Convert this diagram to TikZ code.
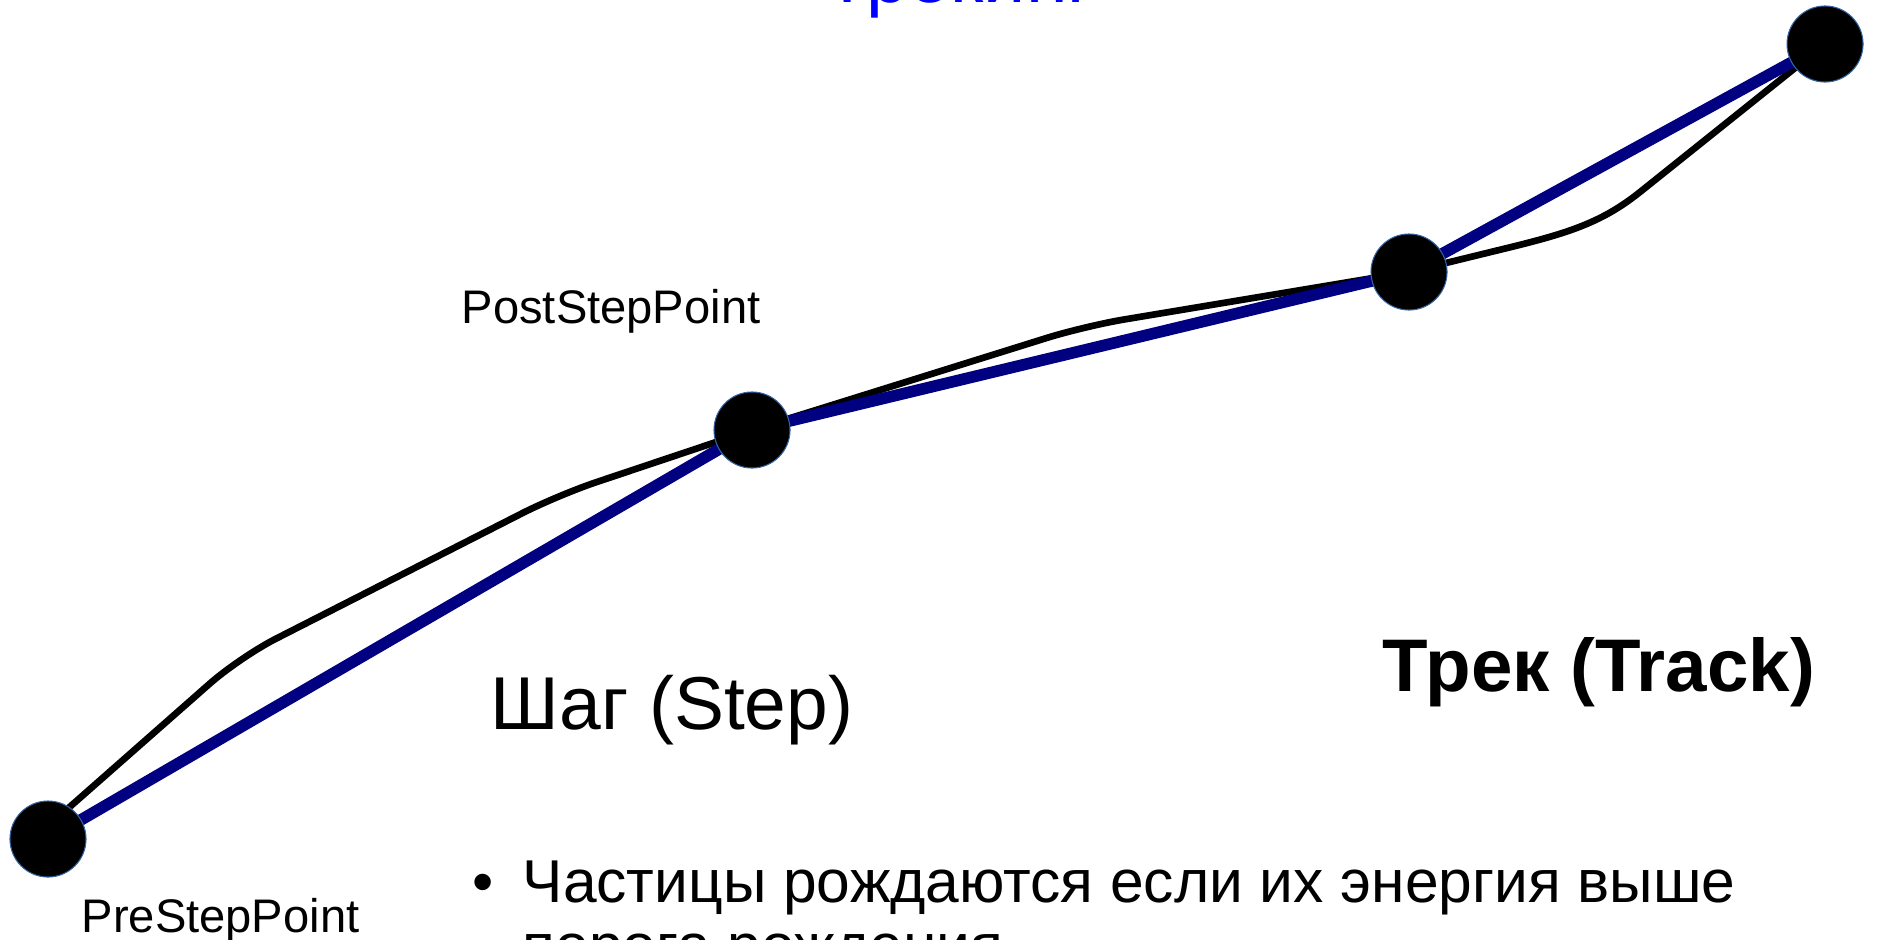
\documentclass[tikz,border=0pt]{standalone}
\usepackage{fontspec}
\setmainfont{Liberation Sans}
\usepackage{tikz}

\begin{document}
\begin{tikzpicture}[x=0.01cm, y=-0.01cm,
  pt/.style={circle, fill=black, draw=rimBlue, line width=0.3pt, minimum size=0.76cm, inner sep=0pt},
  lbl/.style={anchor=base west, inner sep=0pt, font=\fontsize{13.4}{16}\selectfont},
  seg/.style={draw=trackBlue, line width=3.3pt},
  path/.style={draw=black, line width=1.9pt, rounded corners=0.4cm}]

% Colores
\definecolor{trackBlue}{RGB}{0,0,128}
\definecolor{rimBlue}{RGB}{52,101,164}
\definecolor{titleBlue}{RGB}{0,0,255}

\useasboundingbox (0,0) rectangle (1880,939);

% Puntos del track
\coordinate (c0) at (48,839);
\coordinate (c1) at (752,430);
\coordinate (c2) at (1409,272);
\coordinate (c3) at (1825,44);

% Trayectoria real
\draw[path] (c0) ++(8,-20) -- (240,657) -- (558,495) -- (c1);
\draw[path] (c1) -- (1085,326) -- (c2);
\draw[path, sharp corners] (c2) -- (1499,250) .. controls (1565,234) and (1600,224) .. (1640,192) -- (c3);

% Pasos
\draw[seg] (c0) -- (c1);
\draw[seg] (c1) -- (c2);
\draw[seg] (c2) -- (c3);

\node[pt] (p0) at (c0) {};
\node[pt] (p1) at (c1) {};
\node[pt] (p2) at (c2) {};
\node[pt] (p3) at (c3) {};

% Textos
\node[anchor=base, inner sep=0pt, text=titleBlue, font=\fontsize{21.5}{25}\selectfont] (title) at (960,2) {Трекинг};
\node[lbl] (post) at (461,323) {PostStepPoint};
\node[lbl] (pre) at (81,932) {PreStepPoint};
\node[lbl, font=\fontsize{21.3}{25}\selectfont] (step) at (490,729) {Шаг (Step)};
\node[lbl, font=\fontsize{21.2}{25}\selectfont\bfseries] (track) at (1382,691) {Трек (Track)};
\node[lbl, font=\fontsize{17.2}{21}\selectfont] (bul) at (472,902) {•};
\node[lbl, font=\fontsize{17.2}{21}\selectfont] (line1) at (522,902) {Частицы рождаются если их энергия выше};
\node[lbl, font=\fontsize{17.2}{21}\selectfont] (line2) at (522,966) {порога рождения};

\end{tikzpicture}
\end{document}
